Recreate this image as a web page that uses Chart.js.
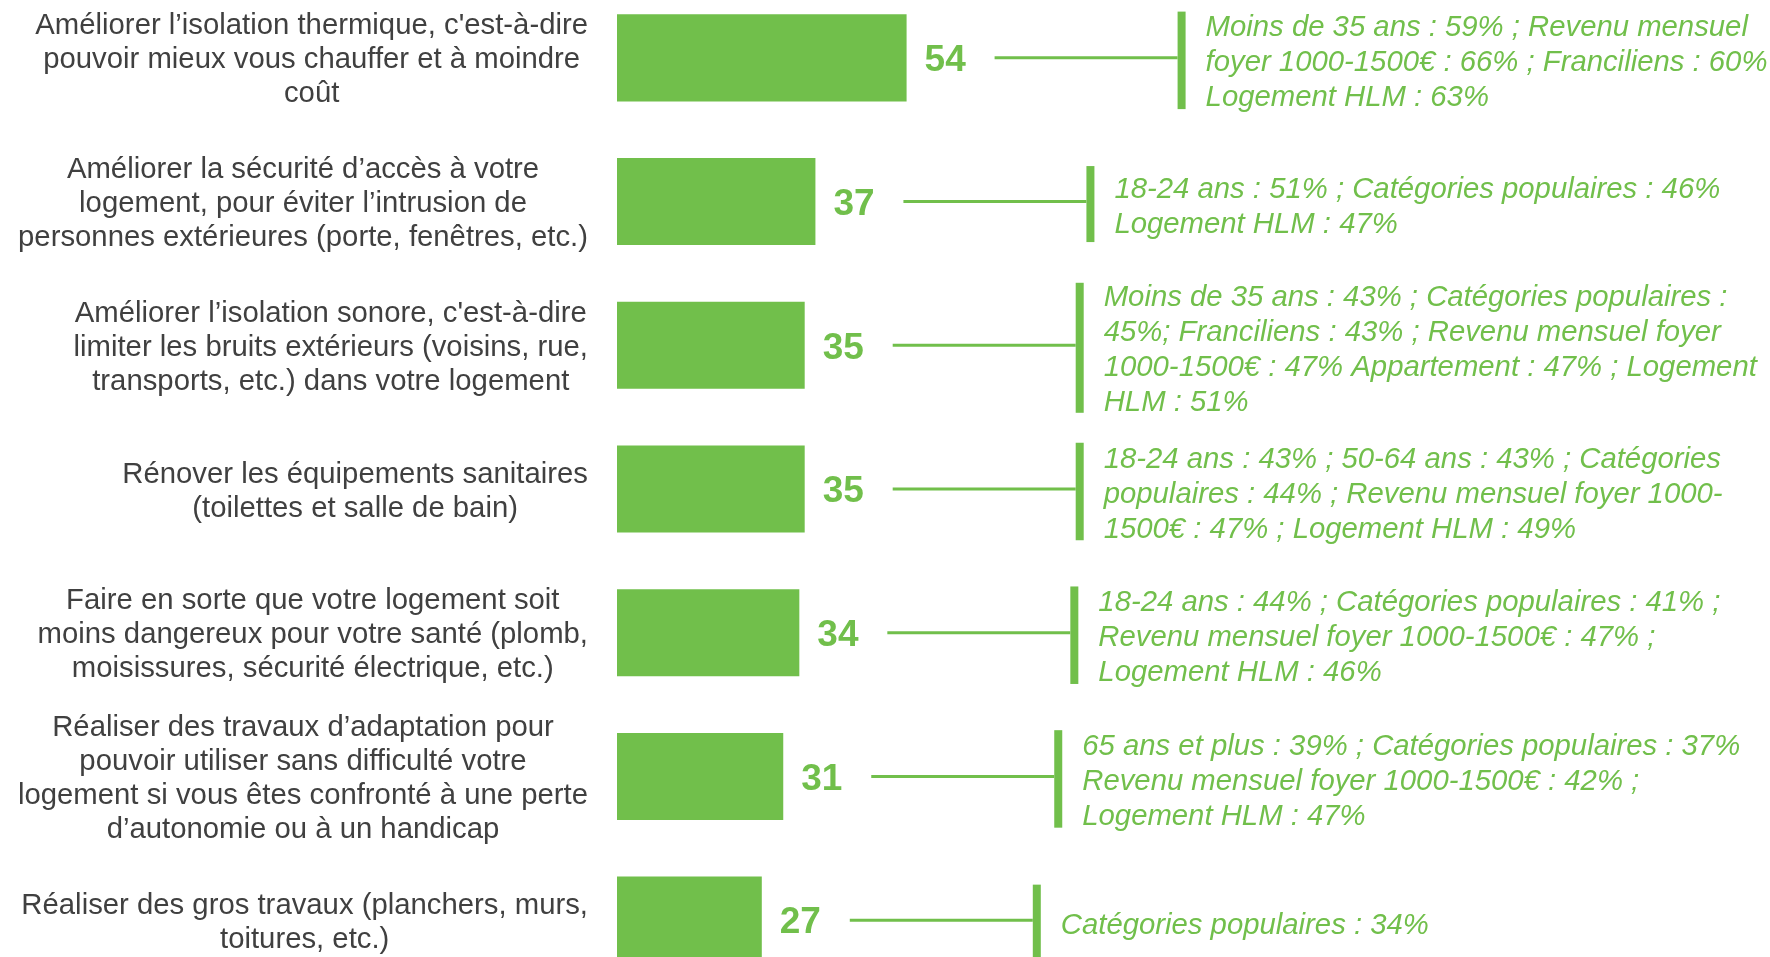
<!DOCTYPE html>
<html>
<head>
<meta charset="utf-8">
<script src="https://cdn.jsdelivr.net/npm/chart.js@4/dist/chart.umd.min.js"></script>
<style>
  html, body { margin: 0; padding: 0; background: #ffffff; overflow: hidden; width: 1770px; height: 957px; font-family: "Liberation Sans", Arial, sans-serif; }
  #wrap { position: absolute; left: 0; top: -14px; width: 1770px; height: 1006px; }
  canvas { display: block; }
</style>
</head>
<body>
<div id="wrap"><canvas id="c" width="1770" height="1006"></canvas></div>
<script>
// ---- Data ----
const categories = [
  ["Améliorer l’isolation thermique, c'est-à-dire", "pouvoir mieux vous chauffer et à moindre", "coût"],
  ["Améliorer la sécurité d’accès à votre", "logement, pour éviter l’intrusion de", "personnes extérieures (porte, fenêtres, etc.)"],
  ["Améliorer l’isolation sonore, c'est-à-dire", "limiter les bruits extérieurs (voisins, rue,", "transports, etc.) dans votre logement"],
  ["Rénover les équipements sanitaires", "(toilettes et salle de bain)"],
  ["Faire en sorte que votre logement soit", "moins dangereux pour votre santé (plomb,", "moisissures, sécurité électrique, etc.)"],
  ["Réaliser des travaux d’adaptation pour", "pouvoir utiliser sans difficulté votre", "logement si vous êtes confronté à une perte", "d’autonomie ou à un handicap"],
  ["Réaliser des gros travaux (planchers, murs,", "toitures, etc.)"]
];
const values = [54, 37, 35, 35, 34, 31, 27];
const details = [
  ["Moins de 35 ans : 59% ; Revenu mensuel", "foyer 1000-1500€ : 66% ; Franciliens : 60%", "Logement HLM : 63%"],
  ["18-24 ans : 51% ; Catégories populaires : 46%", "Logement HLM : 47%"],
  ["Moins de 35 ans : 43% ; Catégories populaires :", "45%; Franciliens : 43% ; Revenu mensuel foyer", "1000-1500€ : 47% Appartement : 47% ; Logement", "HLM : 51%"],
  ["18-24 ans : 43% ; 50-64 ans : 43% ; Catégories", "populaires : 44% ; Revenu mensuel foyer 1000-", "1500€ : 47% ; Logement HLM : 49%"],
  ["18-24 ans : 44% ; Catégories populaires : 41% ;", "Revenu mensuel foyer 1000-1500€ : 47% ;", "Logement HLM : 46%"],
  ["65 ans et plus : 39% ; Catégories populaires : 37%", "Revenu mensuel foyer 1000-1500€ : 42% ;", "Logement HLM : 47%"],
  ["Catégories populaires : 34%"]
];

// ---- Styles ----
const GREEN = '#71BF4B';
const GREY = '#404040';
const FONT = '"Liberation Sans", Arial, Helvetica, sans-serif';

const annotationPlugin = {
  id: 'annotations',
  afterDatasetsDraw(chart) {
    const ctx = chart.ctx;
    const meta = chart.getDatasetMeta(0);
    const yScale = chart.scales.y;
    ctx.save();

    // Category labels (right-aligned block, lines centered)
    ctx.font = '29.3px ' + FONT;
    ctx.fillStyle = GREY;
    ctx.textAlign = 'center';
    ctx.textBaseline = 'alphabetic';
    const labelRight = 588;
    const lh = 34;
    categories.forEach((lines, i) => {
      const cy = yScale.getPixelForTick(i);
      const w = Math.max(...lines.map(l => ctx.measureText(l).width));
      const cx = labelRight - w / 2;
      const n = lines.length;
      lines.forEach((l, k) => {
        const y = cy - (n - 1) / 2 * lh + k * lh + 10.5;
        ctx.fillText(l, cx, y);
      });
    });

    meta.data.forEach((bar, i) => {
      const x = bar.x;
      const y = bar.y;
      // value label
      ctx.font = 'bold 37px ' + FONT;
      ctx.fillStyle = GREEN;
      ctx.textAlign = 'left';
      ctx.textBaseline = 'alphabetic';
      ctx.fillText(String(values[i]), x + 18, y + 13.3);

      // connector line
      const lx0 = x + 88;
      const lx1 = lx0 + 183;
      ctx.strokeStyle = GREEN;
      ctx.lineWidth = 3;
      ctx.beginPath();
      ctx.moveTo(lx0, y);
      ctx.lineTo(lx1, y);
      ctx.stroke();

      // bracket
      const lines = details[i];
      const n = lines.length;
      const h = Math.max(76, n * 32.5);
      ctx.fillStyle = GREEN;
      ctx.fillRect(lx1, y + 2.5 - h / 2, 8, h);

      // detail text
      ctx.font = 'italic 29.3px ' + FONT;
      ctx.textAlign = 'left';
      const tx = lx1 + 8 + 20;
      const tlh = 35;
      lines.forEach((l, k) => {
        const ty = y + 3 - (n - 1) / 2 * tlh + k * tlh + 10.5;
        ctx.fillText(l, tx, ty);
      });
    });
    ctx.restore();
  }
};

function build() {
  new Chart(document.getElementById('c'), {
    type: 'bar',
    data: {
      labels: categories.map(l => l.join(' ')),
      datasets: [{
        data: values,
        backgroundColor: GREEN,
        borderWidth: 0,
        barPercentage: 0.606,
        categoryPercentage: 1
      }]
    },
    options: {
      indexAxis: 'y',
      responsive: false,
      animation: false,
      devicePixelRatio: 1,
      layout: { padding: 0 },
      scales: {
        x: { display: false, min: 0, max: 215 },
        y: {
          display: true,
          grid: { display: false },
          border: { display: false },
          ticks: { display: false },
          afterFit(scale) { scale.width = 617; }
        }
      },
      plugins: {
        legend: { display: false },
        tooltip: { enabled: false }
      }
    },
    plugins: [annotationPlugin]
  });
}

Promise.all([
  document.fonts.load('29px "Liberation Sans"'),
  document.fonts.load('italic 29px "Liberation Sans"'),
  document.fonts.load('bold 37px "Liberation Sans"')
]).catch(() => {}).then(build);
</script>
</body>
</html>
